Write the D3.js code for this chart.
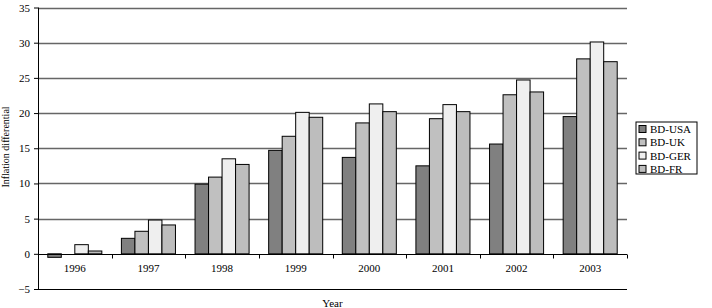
<!DOCTYPE html>
<html>
<head>
<meta charset="utf-8">
<script src="https://cdn.jsdelivr.net/npm/d3@7"></script>
<style>
  body { margin: 0; background: #fff; }
  text { font-family: 'Liberation Serif', 'Times New Roman', serif; fill: #000; }
</style>
</head>
<body>
<script>
let years = ['1996', '1997', '1998', '1999', '2000', '2001', '2002', '2003']
let series = ['BD-USA', 'BD-UK', 'BD-GER', 'BD-FR']
let usa = [-0.5, 2.2, 9.9, 14.7, 13.7, 12.5, 15.6, 19.5]
let uk = [0.0, 3.2, 10.9, 16.7, 18.6, 19.2, 22.6, 27.7]
let ger = [1.3, 4.8, 13.5, 20.1, 21.3, 21.2, 24.7, 30.1]
let fr = [0.4, 4.1, 12.7, 19.4, 20.2, 20.2, 23.0, 27.3]
let yTicks = [-5, 0, 5, 10, 15, 20, 25, 30, 35]

let colors = ['#808080', '#c0c0c0', '#efefef', '#bdbdbd']
let values = [usa, uk, ger, fr]

let width = 712, height = 308
let plot = {left: 38, right: 627, top: 7.5, bottom: 289}

let svg = d3.select('body').append('svg')
    .attr('width', width)
    .attr('height', height)

let x0 = d3.scaleBand().domain(years).range([plot.left, plot.right])
    .paddingInner(0.266).paddingOuter(0.133)
let x1 = d3.scaleBand().domain(series).range([0, x0.bandwidth()])
let y = d3.scaleLinear().domain([-5, 35]).range([plot.bottom, plot.top])

// gridlines
svg.append('g').selectAll('line')
    .data(yTicks.filter(d => d > 0))
    .join('line')
    .attr('x1', plot.left).attr('x2', plot.right)
    .attr('y1', d => Math.round(y(d)) + 0.5).attr('y2', d => Math.round(y(d)) + 0.5)
    .style('stroke', '#666')
    .style('stroke-width', 1.3)

svg.append('line')
    .attr('x1', plot.left).attr('x2', plot.right)
    .attr('y1', Math.round(y(-5)) + 0.5).attr('y2', Math.round(y(-5)) + 0.5)
    .style('stroke', '#000')

// bars
let rows = years.map((yr, i) => ({year: yr, vals: series.map((s, j) => ({s: s, j: j, v: values[j][i]}))}))

svg.append('g').selectAll('g')
    .data(rows)
    .join('g')
    .attr('transform', d => 'translate(' + x0(d.year) + ',0)')
    .selectAll('rect')
    .data(d => d.vals)
    .join('rect')
    .attr('x', d => x1(d.s))
    .attr('y', d => y(Math.max(0, d.v)))
    .attr('width', x1.bandwidth())
    .attr('height', d => Math.abs(y(d.v) - y(0)))
    .style('fill', d => colors[d.j])
    .style('stroke', '#000')
    .style('stroke-width', 1)

// y axis
let yAxis = d3.axisLeft(y).tickValues(yTicks).tickSize(4).tickPadding(4)
let yg = svg.append('g')
    .attr('transform', 'translate(' + plot.left + ',0)')
    .call(yAxis)
yg.select('.domain').attr('d', 'M0.5,' + y(35) + 'V' + y(-5))
    .style('stroke', '#000')
yg.selectAll('text').style('font-size', '11px').attr('fill', '#000')

// x axis at zero
let xg = svg.append('g')
    .attr('transform', 'translate(0,' + (Math.round(y(0)) + 0.5) + ')')
xg.append('line').attr('x1', plot.left).attr('x2', plot.right).style('stroke', '#000')
let step = x0.step()
xg.selectAll('.tk')
    .data(d3.range(years.length + 1))
    .join('line')
    .attr('class', 'tk')
    .attr('x1', i => Math.round(plot.left + i * step) + 0.5)
    .attr('x2', i => Math.round(plot.left + i * step) + 0.5)
    .attr('y1', 0).attr('y2', 4)
    .style('stroke', '#000')
xg.selectAll('.lb')
    .data(years)
    .join('text')
    .attr('class', 'lb')
    .attr('x', d => x0(d) + x0.bandwidth() / 2)
    .attr('y', 17)
    .attr('text-anchor', 'middle')
    .style('font-size', '11px')
    .text(d => d)

// titles
svg.append('text')
    .attr('x', (plot.left + plot.right) / 2)
    .attr('y', 307)
    .attr('text-anchor', 'middle')
    .style('font-size', '11px')
    .text('Year')

svg.append('text')
    .attr('transform', 'translate(9,147) rotate(-90)')
    .attr('text-anchor', 'middle')
    .style('font-size', '10px')
    .text('Inflation differential')

// legend
let legend = svg.append('g').attr('transform', 'translate(636,122)')
legend.append('rect')
    .attr('x', 0).attr('y', 0)
    .attr('width', 61).attr('height', 52)
    .style('fill', '#fff')
    .style('stroke', '#000')
let items = legend.selectAll('.item')
    .data(series)
    .join('g')
    .attr('class', 'item')
    .attr('transform', (d, i) => 'translate(3,' + (7 + i * 13.3) + ')')
items.append('rect')
    .attr('x', 0).attr('y', -3.5)
    .attr('width', 7).attr('height', 7)
    .style('fill', (d, i) => colors[i])
    .style('stroke', '#000')
items.append('text')
    .attr('x', 11)
    .attr('y', 4)
    .style('font-size', '11px')
    .text(d => d)
</script>
</body>
</html>
